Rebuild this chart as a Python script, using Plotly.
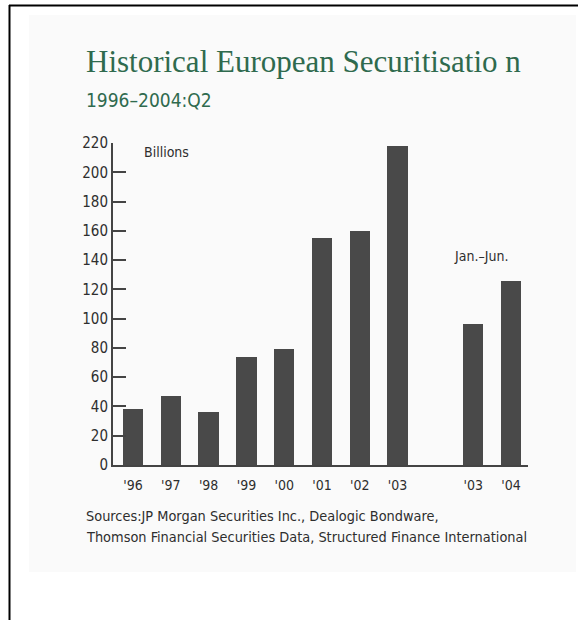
import plotly.graph_objects as go

# ---- data ----
annual_labels = ["'96", "'97", "'98", "'99", "'00", "'01", "'02", "'03"]
annual_values = [38, 47, 36, 74, 79, 155, 160, 218]
half_labels = ["'03", "'04"]
half_values = [96, 126]
y_ticks = [0, 20, 40, 60, 80, 100, 120, 140, 160, 180, 200, 220]

title_text = "Historical European Securitisatio n"
subtitle_text = "1996–2004:Q2"
unit_text = "Billions"
half_text = "Jan.–Jun."
source_lines = ["Sources:JP Morgan Securities Inc., Dealogic Bondware,",
                "Thomson Financial Securities Data, Structured Finance International"]

# ---- layout geometry ----
W, H = 578, 620
L, R, T, B = 113, 50, 143, 155
PW, PH = W - L - R, H - T - B

def px(x):  # pixel x -> paper
    return (x - L) / PW

def py(y):  # pixel y -> paper
    return (H - B - y) / PH

annual_x = list(range(len(annual_labels)))
half_x = [len(annual_labels) + 1 + i for i in range(len(half_labels))]

BAR = "#494949"
TXT = "#2e2e2e"
GREEN = "#2f6a4e"
NARROW = "Liberation Sans Narrow, DejaVu Sans Condensed, Arial Narrow, sans-serif"
SERIF = "Liberation Serif, DejaVu Serif, Times New Roman, serif"

fig = go.Figure()
fig.add_trace(go.Bar(x=annual_x, y=annual_values, marker=dict(color=BAR, line=dict(width=0)),
                     width=0.54, showlegend=False, hoverinfo="y"))
fig.add_trace(go.Bar(x=half_x, y=half_values, marker=dict(color=BAR, line=dict(width=0)),
                     width=0.54, showlegend=False, hoverinfo="y"))

shapes = [
    # light panel
    dict(type="rect", xref="paper", yref="paper", x0=px(29), x1=px(576), y0=py(572), y1=py(15),
         fillcolor="#fafafa", line=dict(width=0), layer="below"),
    # frame lines
    dict(type="line", xref="paper", yref="paper", x0=px(9), x1=px(578), y0=py(5.5), y1=py(5.5),
         line=dict(color="#000000", width=2)),
    dict(type="line", xref="paper", yref="paper", x0=px(9.5), x1=px(9.5), y0=py(5), y1=py(620),
         line=dict(color="#000000", width=2)),
]

annotations = [
    dict(text=title_text, xref="paper", yref="paper", x=px(84), y=py(61), xanchor="left", yanchor="middle",
         showarrow=False, font=dict(family=SERIF, size=31, color=GREEN)),
    dict(text=subtitle_text, xref="paper", yref="paper", x=px(84), y=py(100), xanchor="left", yanchor="middle",
         showarrow=False, font=dict(family=NARROW, size=19, color=GREEN)),
    dict(text=unit_text, xref="x", yref="y", x=0.25, y=214, xanchor="left", yanchor="middle",
         showarrow=False, font=dict(family=NARROW, size=14, color=TXT)),
    dict(text=half_text, xref="x", yref="y", x=8.45, y=143, xanchor="left", yanchor="middle",
         showarrow=False, font=dict(family=NARROW, size=14, color=TXT)),
    dict(text=source_lines[0], xref="paper", yref="paper", x=px(84), y=py(516), xanchor="left", yanchor="middle",
         showarrow=False, font=dict(family=NARROW, size=14.4, color=TXT)),
    dict(text=source_lines[1], xref="paper", yref="paper", x=px(84), y=py(537), xanchor="left", yanchor="middle",
         showarrow=False, font=dict(family=NARROW, size=14.4, color=TXT)),
]

fig.update_layout(
    width=W, height=H, margin=dict(l=L, r=R, t=T, b=B, pad=0),
    paper_bgcolor="#ffffff", plot_bgcolor="rgba(0,0,0,0)",
    bargap=0, shapes=shapes, annotations=annotations,
    xaxis=dict(range=[-0.53, 10.45], tickvals=annual_x + half_x, ticktext=annual_labels + half_labels,
               showline=True, linewidth=2, linecolor="#444444", ticks="", showgrid=False, zeroline=False,
               tickfont=dict(family=NARROW, size=14, color=TXT), ticklabelstandoff=6),
    yaxis=dict(range=[0, 220], tickvals=y_ticks, showline=True, linewidth=2, linecolor="#444444",
               ticks="inside", ticklen=13, tickwidth=2, tickcolor="#444444", showgrid=False, zeroline=False,
               tickfont=dict(family=NARROW, size=15, color=TXT), ticklabelstandoff=0),
)

fig.write_html("out.html", config={"displayModeBar": False},
               post_script="document.body.style.margin='0px';document.body.style.overflow='hidden';")
